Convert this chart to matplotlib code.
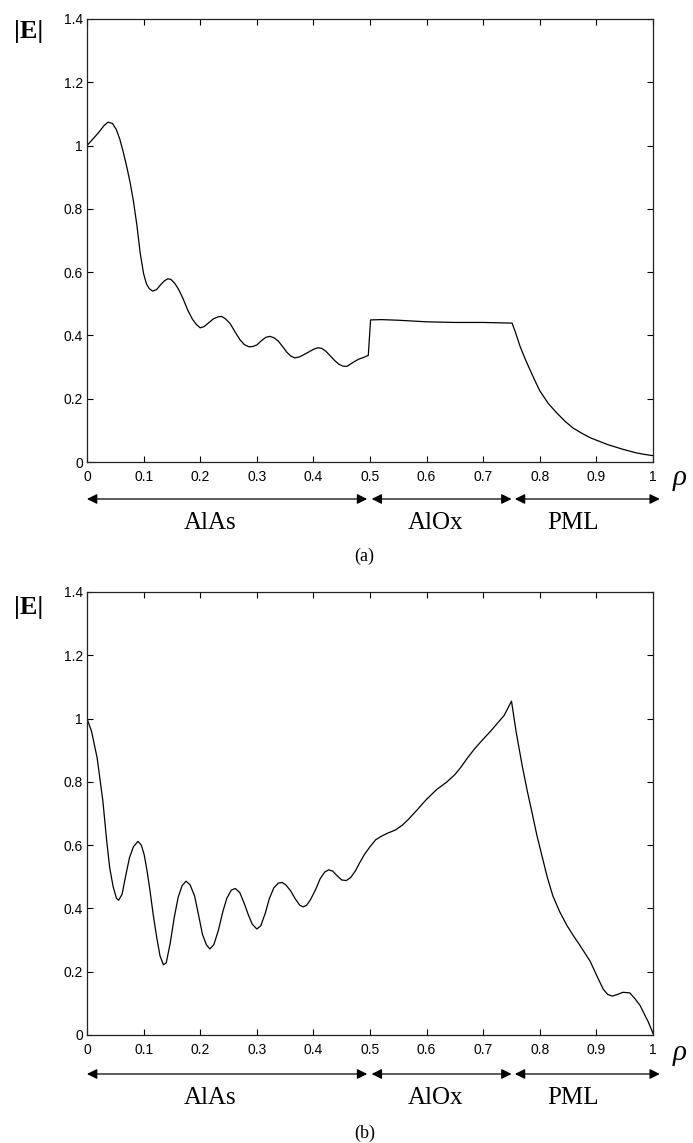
import matplotlib
matplotlib.use("Agg")
import matplotlib.pyplot as plt

# ---------------- data ----------------
rho_a = [0.0, 0.01, 0.02, 0.03, 0.037, 0.045, 0.052, 0.058, 0.064, 0.07, 0.076, 0.082,
         0.088, 0.094, 0.1, 0.105, 0.11, 0.116, 0.123, 0.13, 0.137, 0.143, 0.148, 0.155,
         0.162, 0.17, 0.178, 0.186, 0.193, 0.2, 0.207, 0.215, 0.223, 0.232, 0.238, 0.245,
         0.253, 0.262, 0.27, 0.278, 0.286, 0.293, 0.3, 0.308, 0.316, 0.323, 0.33, 0.338,
         0.346, 0.353, 0.36, 0.367, 0.375, 0.382, 0.39, 0.4, 0.408, 0.415, 0.422, 0.43,
         0.438, 0.445, 0.452, 0.459, 0.466, 0.473, 0.48, 0.488, 0.497, 0.501, 0.52, 0.55,
         0.6, 0.65, 0.7, 0.751, 0.757, 0.765, 0.775, 0.783, 0.792, 0.8, 0.815, 0.83,
         0.845, 0.859, 0.875, 0.89, 0.9, 0.92, 0.947, 0.97, 0.985, 1.0]
E_a = [1.0, 1.02, 1.04, 1.063, 1.074, 1.07, 1.05, 1.02, 0.98, 0.935, 0.885, 0.825,
       0.75, 0.66, 0.595, 0.563, 0.548, 0.54, 0.545, 0.56, 0.573, 0.579, 0.577, 0.565,
       0.545, 0.515, 0.48, 0.452, 0.435, 0.424, 0.428, 0.44, 0.452, 0.459, 0.46, 0.452,
       0.437, 0.41, 0.387, 0.371, 0.364, 0.365, 0.37, 0.383, 0.394, 0.397, 0.393, 0.382,
       0.364, 0.347, 0.335, 0.329, 0.332, 0.338, 0.346, 0.356, 0.361, 0.359, 0.35, 0.335,
       0.32, 0.309, 0.303, 0.302, 0.31, 0.318, 0.325, 0.33, 0.337, 0.449, 0.45, 0.448,
       0.443, 0.441, 0.441, 0.439, 0.41, 0.366, 0.322, 0.29, 0.255, 0.225, 0.185, 0.155,
       0.128, 0.107, 0.09, 0.076, 0.069, 0.055, 0.04, 0.029, 0.024, 0.02]

rho_b = [0.0, 0.008, 0.018, 0.028, 0.035, 0.04, 0.046, 0.052, 0.056, 0.062, 0.068, 0.075,
         0.082, 0.09, 0.096, 0.101, 0.106, 0.111, 0.117, 0.123, 0.129, 0.135, 0.14, 0.147,
         0.154, 0.161, 0.168, 0.175, 0.182, 0.19, 0.197, 0.204, 0.211, 0.217, 0.224, 0.232,
         0.24, 0.247, 0.255, 0.262, 0.27, 0.278, 0.285, 0.292, 0.3, 0.307, 0.315, 0.322,
         0.33, 0.338, 0.345, 0.352, 0.36, 0.368, 0.376, 0.382, 0.388, 0.395, 0.404, 0.412,
         0.42, 0.427, 0.434, 0.442, 0.45, 0.458, 0.466, 0.474, 0.482, 0.49, 0.5, 0.51,
         0.52, 0.53, 0.545, 0.557, 0.567, 0.58, 0.6, 0.618, 0.636, 0.65, 0.66, 0.672,
         0.685, 0.7, 0.713, 0.725, 0.737, 0.75, 0.758, 0.769, 0.778, 0.786, 0.795, 0.804,
         0.813, 0.823, 0.835, 0.848, 0.86, 0.871, 0.88, 0.889, 0.9, 0.912, 0.92, 0.928,
         0.937, 0.947, 0.959, 0.968, 0.977, 0.985, 0.992, 1.0]
E_b = [1.0, 0.96, 0.875, 0.74, 0.61, 0.53, 0.47, 0.432, 0.426, 0.445, 0.5, 0.56,
       0.595, 0.612, 0.6, 0.57, 0.52, 0.46, 0.38, 0.31, 0.25, 0.222, 0.228, 0.29,
       0.37, 0.435, 0.472, 0.486, 0.475, 0.44, 0.38, 0.318, 0.285, 0.272, 0.285, 0.33,
       0.39, 0.432, 0.458, 0.463, 0.45, 0.415, 0.38, 0.35, 0.335, 0.345, 0.385, 0.43,
       0.465, 0.48, 0.482, 0.473, 0.455, 0.43, 0.41, 0.405, 0.41, 0.428, 0.46, 0.494,
       0.515, 0.522, 0.518, 0.503, 0.49, 0.488, 0.498, 0.518, 0.545, 0.57, 0.595, 0.617,
       0.628, 0.637, 0.648, 0.663, 0.68, 0.705, 0.745, 0.776, 0.8, 0.823, 0.845, 0.875,
       0.905, 0.935, 0.96, 0.985, 1.01, 1.055, 0.96, 0.85, 0.77, 0.705, 0.63, 0.565,
       0.5, 0.44, 0.39, 0.346, 0.312, 0.283, 0.258, 0.233, 0.19, 0.145, 0.128, 0.123,
       0.128, 0.135, 0.133, 0.115, 0.094, 0.065, 0.04, 0.005]

x_ticks = [0, 0.1, 0.2, 0.3, 0.4, 0.5, 0.6, 0.7, 0.8, 0.9, 1]
x_ticklabels = ["0", "0.1", "0.2", "0.3", "0.4", "0.5", "0.6", "0.7", "0.8", "0.9", "1"]
y_ticks = [0, 0.2, 0.4, 0.6, 0.8, 1.0, 1.2, 1.4]
y_ticklabels = ["0", "0.2", "0.4", "0.6", "0.8", "1", "1.2", "1.4"]

regions = ["AlAs", "AlOx", "PML"]
region_bounds = [(0.0, 0.495), (0.503, 0.75), (0.756, 1.012)]
region_label_x = [0.217, 0.615, 0.859]
panel_labels = ["(a)", "(b)"]

# ---------------- figure ----------------
W, H = 693, 1143
fig = plt.figure(figsize=(W / 100, H / 100), dpi=100)

def px_axes(left, top, right, bottom):
    return [left / W, 1 - bottom / H, (right - left) / W, (bottom - top) / H]

ax_a = fig.add_axes(px_axes(87, 19, 653, 462))
ax_b = fig.add_axes(px_axes(87, 592, 653, 1035))

serif = ["Liberation Serif", "DejaVu Serif"]
sans = ["Liberation Sans", "DejaVu Sans"]

def style(ax, rho, E, panel, arrow_y, label_y, panel_y, rho_y, e_y):
    ax.plot(rho, E, color="black", lw=0.9)
    ax.set_xlim(0, 1)
    ax.set_ylim(0, 1.4)
    ax.set_xticks(x_ticks)
    ax.set_xticklabels(x_ticklabels, fontfamily=sans, fontsize=10)
    ax.set_yticks(y_ticks)
    ax.set_yticklabels(y_ticklabels, fontfamily=sans, fontsize=10)
    ax.tick_params(direction="in", length=4, width=0.8, top=True, right=True,
                   colors="black")
    ax.tick_params(axis="x", pad=6)
    ax.tick_params(axis="y", pad=3)
    for s in ax.spines.values():
        s.set_linewidth(0.9)
        s.set_color("#222222")

    # region arrows and labels
    for name, (x0, x1), lx in zip(regions, region_bounds, region_label_x):
        ax.annotate("", xy=(x1, arrow_y), xytext=(x0, arrow_y),
                    xycoords=("data", "axes fraction"),
                    textcoords=("data", "axes fraction"),
                    arrowprops=dict(arrowstyle="<|-|>", color="black", lw=0.9,
                                    mutation_scale=15, shrinkA=0, shrinkB=0),
                    annotation_clip=False)
        ax.text(lx, label_y, name, transform=ax.get_xaxis_transform(),
                ha="center", va="center", fontfamily=serif, fontsize=18)
    ax.text(0.49, panel_y, panel, transform=ax.get_xaxis_transform(),
            ha="center", va="center", fontfamily=serif, fontsize=13)
    ax.text(1.048, rho_y, "ρ", transform=ax.get_xaxis_transform(),
            ha="center", va="center", fontfamily=serif, fontstyle="italic",
            fontsize=21)
    ax.text(-0.104, e_y, "|E|", transform=ax.get_xaxis_transform(),
            ha="center", va="center", fontfamily=serif, fontweight="bold",
            fontsize=19)

style(ax_a, rho_a, E_a, panel_labels[0], -0.0835, -0.138, -0.214, -0.036, 0.971)
style(ax_b, rho_b, E_b, panel_labels[1], -0.088, -0.142, -0.221, -0.041, 0.966)

fig.savefig("out.png", dpi=100)
